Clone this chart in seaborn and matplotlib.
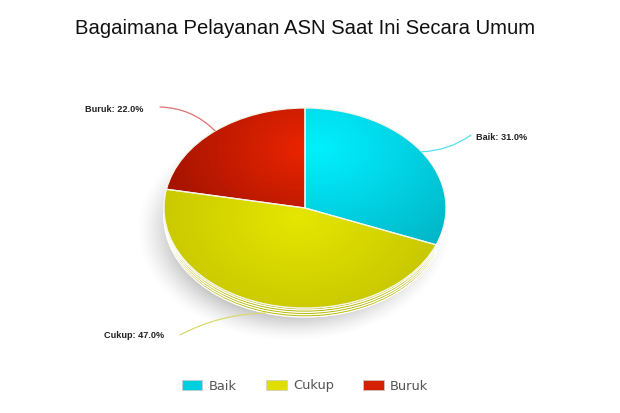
import numpy as np
import seaborn as sns
import matplotlib.pyplot as plt
from matplotlib.patches import Patch

categories = ['Baik', 'Cukup', 'Buruk']
values = [31.0, 47.0, 22.0]
bright = [(0, 240, 255), (230, 230, 0), (235, 36, 0)]
dark = [(0, 178, 196), (196, 196, 0), (165, 20, 0)]
side = [(0, 150, 172), (182, 182, 0), (140, 16, 0)]
legend_colors = ['#00cfe0', '#dede00', '#d42000']
glow = [(0.1, 0.6), (-0.05, -0.1), (0.0, 0.6)]
glow_size = [1.35, 1.15, 1.0]
label_xy = [(476, 137), (104, 336), (85, 110)]
line_end = [(471, 135), (180, 335), (160, 107)]
line_color = ['#55dfee', '#d8d870', '#e07070']
line_rad = [-0.15, -0.12, -0.2]

sns.set_theme(style='white')
plt.rcParams['font.family'] = ['Liberation Sans', 'DejaVu Sans']

# pie centre and radii in pixels, the axes fills the whole figure
cx, cy, rx, ry = 305, 208, 141, 100
depth = 9 / ry
W, H = 620, 413
xlim = (-cx / rx, (W - cx) / rx)
ylim = ((cy - H) / ry, cy / ry)
extent = (xlim[0], xlim[1], ylim[0], ylim[1])

fig = plt.figure(figsize=(6.2, 4.13), dpi=100)
ax = fig.add_axes([0, 0, 1, 1])

xx, yy = np.meshgrid(np.linspace(xlim[0], xlim[1], W), np.linspace(ylim[1], ylim[0], H))

# soft shadow under the disc
dist = np.sqrt(((xx + 0.08) / 1.0) ** 2 + ((yy + 0.22) / 1.0) ** 2)
shadow = np.zeros((H, W, 4))
shadow[..., :3] = 0.35
shadow[..., 3] = 0.42 * np.clip((1.12 - dist) / 0.3, 0, 1) ** 1.5
ax.imshow(shadow, extent=extent, aspect='auto', zorder=0)

# side of the disc
for d in np.linspace(depth, 0.02, 4):
    ax.pie(values, startangle=90, counterclock=False, center=(0, -d),
           colors=[np.array(c) / 255 for c in side], wedgeprops={'zorder': 1})

top, _ = ax.pie(values, startangle=90, counterclock=False,
                colors=legend_colors, wedgeprops={'zorder': 1})

# gradient on each slice
for i, w in enumerate(top):
    r = np.sqrt((xx - glow[i][0]) ** 2 + (yy - glow[i][1]) ** 2) / glow_size[i]
    t = np.clip(r, 0, 1)[..., None]
    img = (np.array(bright[i]) * (1 - t) + np.array(dark[i]) * t) / 255
    im = ax.imshow(img, extent=extent, aspect='auto', zorder=2)
    im.set_clip_path(w)

# slice borders and white rim
edges, _ = ax.pie(values, startangle=90, counterclock=False,
                  wedgeprops={'facecolor': 'none', 'edgecolor': '#f4f4e8',
                              'linewidth': 0.9, 'zorder': 3})

ax.set_aspect('auto')
ax.set_xlim(xlim)
ax.set_ylim(ylim)
ax.axis('off')

# connectors start from the middle of each slice
for i, w in enumerate(top):
    mid = np.deg2rad((w.theta1 + w.theta2) / 2)
    x, y = np.cos(mid), np.sin(mid)
    if y < 0:
        y -= depth
    end = ((line_end[i][0] - cx) / rx, (cy - line_end[i][1]) / ry)
    ax.annotate('', xy=(x, y), xytext=end, zorder=4,
                arrowprops=dict(arrowstyle='-', color=line_color[i], lw=0.9,
                                shrinkA=0, shrinkB=0,
                                connectionstyle='arc3,rad=%s' % line_rad[i]))
    ax.text((label_xy[i][0] - cx) / rx, (cy - label_xy[i][1]) / ry,
            '%s: %.1f%%' % (categories[i], values[i]), fontsize=6.6,
            fontweight='bold', color='#222222', va='center', ha='left', zorder=5)

fig.text(305 / W, 1 - 28 / H, 'Bagaimana Pelayanan ASN Saat Ini Secara Umum',
         fontsize=14.6, color='#111111', ha='center', va='center')

handles = [Patch(facecolor=c, edgecolor='#cccccc', linewidth=0.5) for c in legend_colors]
ax.legend(handles, categories, ncol=3, frameon=False, loc='center',
          bbox_to_anchor=(305 / W, 1 - 386 / H), fontsize=9.6, labelcolor='#555555',
          handlelength=1.6, handleheight=0.85, handletextpad=0.5, columnspacing=2.2,
          prop={'family': 'DejaVu Sans', 'size': 9.4})

fig.savefig('out.png', dpi=100, facecolor='white')
